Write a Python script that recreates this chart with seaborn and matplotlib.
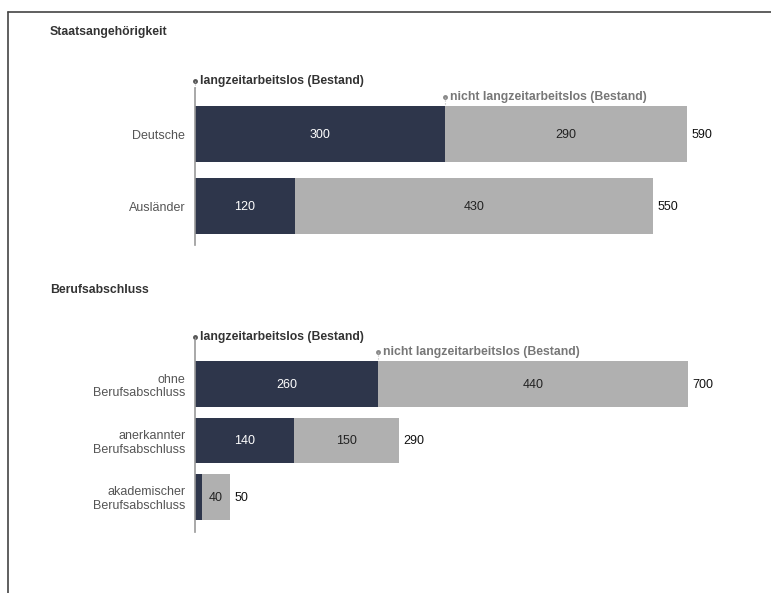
import matplotlib
matplotlib.use("Agg")
import matplotlib.pyplot as plt
import seaborn as sns
import pandas as pd
from matplotlib.lines import Line2D

sns.set_theme(style="white")
plt.rcParams['font.family'] = ['Liberation Sans', 'DejaVu Sans']

# ---- data ----
title1 = "Staatsangehörigkeit"
cats1 = ["Deutsche", "Ausländer"]
lz1 = [300, 120]
nlz1 = [290, 430]

title2 = "Berufsabschluss"
cats2 = ["ohne\nBerufsabschluss", "anerkannter\nBerufsabschluss", "akademischer\nBerufsabschluss"]
lz2 = [260, 140, 10]
nlz2 = [440, 150, 40]

series_lz = "langzeitarbeitslos (Bestand)"
series_nlz = "nicht langzeitarbeitslos (Bestand)"

DARK = "#2e364b"
GRAY = "#b0b0b0"

W, H = 771, 593
fig = plt.figure(figsize=(W / 100, H / 100), dpi=100)

def px_ax(x0, y0, x1, y1):
    return fig.add_axes([x0 / W, 1 - y1 / H, (x1 - x0) / W, (y1 - y0) / H])

def panel(ax, cats, lz, nlz, xmax, ylim, barw, lab_y_dark, lab_y_gray):
    tot = [a + b for a, b in zip(lz, nlz)]
    df = pd.DataFrame({"cat": cats, "lz": lz, "nlz": nlz, "tot": tot})
    sns.barplot(data=df, y="cat", x="tot", color=GRAY, saturation=1, width=barw,
                orient="h", ax=ax, edgecolor="none")
    sns.barplot(data=df, y="cat", x="lz", color=DARK, saturation=1, width=barw,
                orient="h", ax=ax, edgecolor="none")
    ax.set_xlim(0, xmax)
    ax.set_ylim(*ylim)
    for s in ["top", "right", "bottom"]:
        ax.spines[s].set_visible(False)
    ax.spines["left"].set_color("#999999")
    ax.spines["left"].set_linewidth(1.2)
    ax.set_xticks([])
    ax.set_xlabel("")
    ax.set_ylabel("")
    ax.tick_params(axis="y", length=0, pad=7, labelsize=9, labelcolor="#555555")
    for t in ax.get_yticklabels():
        t.set_multialignment("right")
    for i in range(len(cats)):
        if lz[i] >= 60:
            ax.text(lz[i] / 2, i + 0.01, str(lz[i]), ha="center", va="center",
                    color="white", fontsize=9)
        ax.text(lz[i] + nlz[i] / 2, i + 0.01, str(nlz[i]), ha="center", va="center",
                color="#222222", fontsize=9)
        ax.text(tot[i] + xmax * 0.008, i + 0.01, str(tot[i]), ha="left", va="center",
                color="#111111", fontsize=9)
    top = -barw / 2
    # legend-like series labels
    ax.text(xmax * 0.009, lab_y_dark, series_lz, ha="left", va="center",
            fontsize=8.8, fontweight="bold", color="#333333", clip_on=False)
    ax.plot([0], [lab_y_dark], marker="o", ms=2.5, color="#555555", clip_on=False)
    ax.text(lz[0] + xmax * 0.009, lab_y_gray, series_nlz, ha="left", va="center",
            fontsize=8.8, fontweight="bold", color="#777777", clip_on=False)
    ax.plot([lz[0]], [lab_y_gray], marker="o", ms=2.5, color="#888888", clip_on=False)
    ax.plot([lz[0], lz[0]], [lab_y_gray, top], ls=":", lw=0.8, color="#bbbbbb",
            clip_on=False)
    ax.plot([0, 0], [lab_y_dark, ylim[1]], ls=":", lw=0.8, color="#bbbbbb",
            clip_on=False)

# panel 1
ax1 = px_ax(195, 88, 755, 245)
panel(ax1, cats1, lz1, nlz1, 560 / 0.8333, (1.54, -0.64), 0.78, -0.736, -0.514)
fig.text(50 / W, 1 - 32 / H, title1, fontsize=8.8, fontweight="bold",
         color="#333333", va="center", ha="left")

# panel 2
ax2 = px_ax(195, 340, 755, 532)
panel(ax2, cats2, lz2, nlz2, 560 / 0.704, (2.62, -0.78), 0.80, -0.83, -0.566)
fig.text(50 / W, 1 - 290 / H, title2, fontsize=8.8, fontweight="bold",
         color="#333333", va="center", ha="left")

# outer frame
fig.add_artist(Line2D([8 / W, 1], [1 - 12 / H, 1 - 12 / H], color="#444444", lw=1.2))
fig.add_artist(Line2D([8 / W, 8 / W], [0, 1 - 12 / H], color="#444444", lw=1.2))

fig.savefig("out.png", dpi=100)
